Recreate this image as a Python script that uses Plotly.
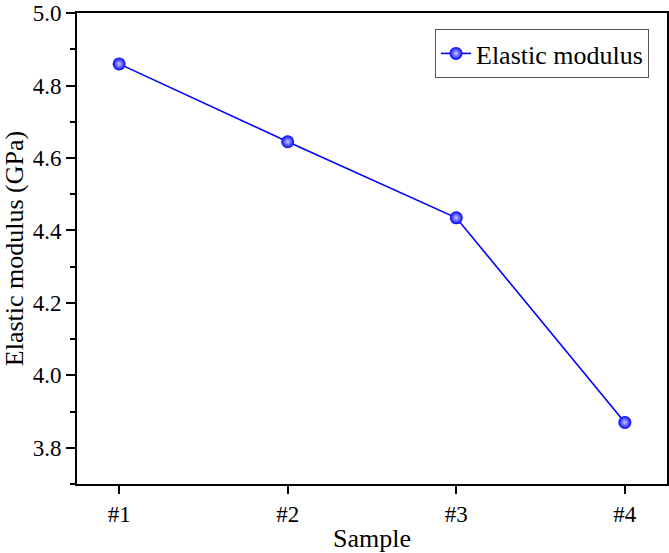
import plotly.graph_objects as go

samples = ["#1", "#2", "#3", "#4"]
sample_pos = [1, 2, 3, 4]
modulus = [4.86, 4.645, 4.435, 3.87]

FONT = "Liberation Serif"

fig = go.Figure()
fig.add_trace(go.Scatter(
    x=sample_pos, y=modulus, mode="lines+markers", name="Elastic modulus",
    line=dict(color="#0000FF", width=1.6),
    marker=dict(size=13, color="#0000FF",
                gradient=dict(type="radial", color="#C8C8FF"),
                line=dict(width=0)),
))

fig.update_layout(
    width=669, height=553,
    margin=dict(l=77, r=2, t=13, b=69),
    plot_bgcolor="white", paper_bgcolor="white",
    font=dict(family=FONT, color="black", size=23),
    showlegend=True,
    legend=dict(x=0.9695, y=0.966, xanchor="right", yanchor="top",
                bordercolor="#555555", borderwidth=1, bgcolor="white",
                font=dict(size=26, family=FONT, color="black")),
    xaxis=dict(
        range=[0.75, 4.25], tickvals=sample_pos, ticktext=samples,
        showline=True, linecolor="black", linewidth=2, mirror=True,
        ticks="outside", ticklen=8, tickwidth=2, tickcolor="black",
        showgrid=False, zeroline=False, ticklabeloverflow="allow", automargin=False,
        title=dict(text="Sample", font=dict(size=26, family=FONT, color="black"), standoff=4),
        tickfont=dict(size=23, family=FONT, color="black"),
    ),
    yaxis=dict(
        range=[3.7, 5.0005], tickvals=[3.8, 4.0, 4.2, 4.4, 4.6, 4.8, 5.0],
        ticktext=["3.8", "4.0", "4.2", "4.4", "4.6", "4.8", "5.0"],
        showline=True, linecolor="black", linewidth=2, mirror=True,
        ticks="outside", ticklen=9, tickwidth=2, tickcolor="black",
        minor=dict(tickvals=[3.7, 3.9, 4.1, 4.3, 4.5, 4.7, 4.9], ticks="outside",
                   ticklen=5, tickwidth=2, tickcolor="black"),
        showgrid=False, zeroline=False, ticklabeloverflow="allow", automargin=False,
        title=dict(text="Elastic modulus (GPa)", font=dict(size=26, family=FONT, color="black"), standoff=6),
        tickfont=dict(size=23, family=FONT, color="black"),
    ),
)

fig.write_html("out.html")
